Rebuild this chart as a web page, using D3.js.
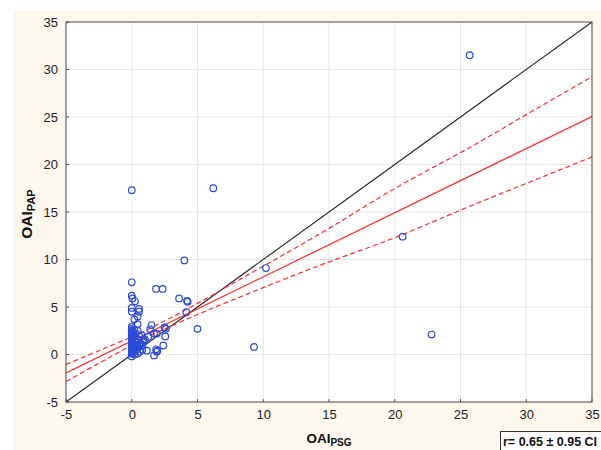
<!DOCTYPE html>
<html>
<head>
<meta charset="utf-8">
<script src="https://cdn.jsdelivr.net/npm/d3@7"></script>
<style>
  html, body { margin: 0; padding: 0; background: #ffffff; }
  svg { display: block; font-family: "Liberation Sans", Arial, sans-serif; }
</style>
</head>
<body>
<svg id="chart" width="601" height="450"></svg>
<script>
// ---- data ----
const xTicks = [-5, 0, 5, 10, 15, 20, 25, 30, 35];
const yTicks = [-5, 0, 5, 10, 15, 20, 25, 30, 35];

const oaiPSG = [
  25.7, 6.2, 0, 4.0, 10.2, 20.6, 22.8, 9.3, 5.0, 1.85, 2.35, 3.6, 4.2, 4.25, 4.15,
  2.6, 2.5, 2.4, 1.85, 1.5, 1.4, 2.55, 1.95, 1.7, 1.9, 1.7, 1.9, 0.75, 1.25, 0.9, 0.65, 1.15,
  0, 0, 0.05, 0.25, 0, 0, 0.55, 0.55, 0.2, 0.45, 0.45,
  0, 0, 0, 0, 0, 0, 0, 0, 0, 0, 0, 0, 0, 0, 0, 0,
  0.1, 0.1, 0.1, 0.1, 0.1,
  0.2, 0.2, 0.2, 0.2, 0.2,
  0.3, 0.3, 0.3,
  0.45, 0.45, 0.45, 0.45,
  0.6, 0.6, 0.6,
  0.8, 0.8, 0.85, 1.0, 0.4
];
const oaiPAP = [
  31.5, 17.5, 17.3, 9.9, 9.1, 12.4, 2.1, 0.8, 2.7, 6.9, 6.9, 5.9, 5.65, 5.55, 4.45,
  2.7, 2.85, 0.95, 0.55, 3.1, 2.65, 1.9, 0.4, -0.1, 0.3, 2.2, 2.2, 2.05, 1.85, 1.5, 1.2, 0.4,
  7.6, 6.2, 5.9, 5.6, 4.9, 4.5, 4.8, 4.5, 3.7, 3.2, 4.0,
  2.9, 2.7, 2.5, 2.3, 2.1, 1.9, 1.7, 1.5, 1.3, 1.1, 0.9, 0.7, 0.5, 0.3, 0.1, -0.2,
  2.4, 1.8, 1.2, 0.6, 0.2,
  2.6, 2.0, 1.4, 0.8, 0.0,
  2.2, 1.0, 0.4,
  2.5, 1.6, 0.7, 0.1,
  1.9, 0.9, 0.3,
  1.0, 0.5, 1.3, 1.6, 1.3
];

// regression line and 95% confidence band
const fitX = [-5, 35];
const fitY = [-1.95, 25.05];
const ciX = [-5, 0, 1.5, 5, 10, 15, 20, 25, 30, 35];
const ciUpper = [-1.05, 1.85, 2.82, 5.38, 9.30, 13.27, 17.47, 21.25, 25.25, 29.24];
const ciLower = [-2.85, 0.99, 2.04, 4.21, 7.04, 9.75, 12.3, 15.2, 18.0, 20.8];
const identity = [-5, 35];

const xTitle = ["OAI", "PSG"];
const yTitle = ["OAI", "PAP"];
const legendText = "r= 0.65 \u00B1 0.95 CI";

// ---- layout ----
const svg = d3.select("#chart");
const L = 66, R = 592, T = 22, B = 402;

svg.append("rect").attr("x", 13).attr("y", 10).attr("width", 601 - 13).attr("height", 450 - 10)
  .attr("fill", "#fdf8ee");
svg.append("rect").attr("x", L).attr("y", T).attr("width", R - L).attr("height", B - T)
  .attr("fill", "#ffffff");

const x = d3.scaleLinear().domain([-5, 35]).range([L, R]);
const y = d3.scaleLinear().domain([-5, 35]).range([B, T]);

// grid
const g = svg.append("g");
g.selectAll(".vg").data(xTicks.slice(1, -1)).join("line")
  .attr("x1", d => x(d)).attr("x2", d => x(d)).attr("y1", T).attr("y2", B)
  .attr("stroke", "#e6e6e6").attr("stroke-width", 1);
g.selectAll(".hg").data(yTicks.slice(1, -1)).join("line")
  .attr("y1", d => y(d)).attr("y2", d => y(d)).attr("x1", L).attr("x2", R)
  .attr("stroke", "#e6e6e6").attr("stroke-width", 1);

// axes
const fmt = d => String(d);
const xAxis = d3.axisBottom(x).tickValues(xTicks).tickFormat(fmt).tickSize(0).tickPadding(8);
const yAxis = d3.axisLeft(y).tickValues(yTicks).tickFormat(fmt).tickSize(0).tickPadding(8);
const gx = svg.append("g").attr("transform", `translate(0,${B})`).call(xAxis);
const gy = svg.append("g").attr("transform", `translate(${L},0)`).call(yAxis);
[gx, gy].forEach(a => {
  a.select(".domain").remove();
  a.selectAll("text").attr("font-size", 13).attr("fill", "#222")
    .attr("font-family", "'Liberation Sans', Arial, sans-serif");
});
// small inner tick marks
svg.append("g").selectAll("line").data(xTicks).join("line")
  .attr("x1", d => x(d)).attr("x2", d => x(d)).attr("y1", B).attr("y2", B - 3)
  .attr("stroke", "#555");
svg.append("g").selectAll("line").data(yTicks).join("line")
  .attr("y1", d => y(d)).attr("y2", d => y(d)).attr("x1", L).attr("x2", L + 3)
  .attr("stroke", "#555");

// clip
svg.append("clipPath").attr("id", "clip").append("rect")
  .attr("x", L).attr("y", T).attr("width", R - L).attr("height", B - T);
const plot = svg.append("g").attr("clip-path", "url(#clip)");

// identity line
plot.append("line")
  .attr("x1", x(identity[0])).attr("y1", y(identity[0]))
  .attr("x2", x(identity[1])).attr("y2", y(identity[1]))
  .attr("stroke", "#222").attr("stroke-width", 1.1);

// regression
const line = d3.line().x(d => x(d[0])).y(d => y(d[1])).curve(d3.curveNatural);
plot.append("path").datum(fitX.map((v, i) => [v, fitY[i]]))
  .attr("d", line).attr("fill", "none").attr("stroke", "#ff2a2a").attr("stroke-width", 1.2);
plot.append("path").datum(ciX.map((v, i) => [v, ciUpper[i]]))
  .attr("d", line).attr("fill", "none").attr("stroke", "#ff2a2a").attr("stroke-width", 1.2)
  .attr("stroke-dasharray", "5,3");
plot.append("path").datum(ciX.map((v, i) => [v, ciLower[i]]))
  .attr("d", line).attr("fill", "none").attr("stroke", "#ff2a2a").attr("stroke-width", 1.2)
  .attr("stroke-dasharray", "5,3");

// points
plot.selectAll("circle").data(oaiPSG.map((v, i) => [v, oaiPAP[i]])).join("circle")
  .attr("cx", d => x(d[0])).attr("cy", d => y(d[1])).attr("r", 3.3)
  .attr("fill", "none").attr("stroke", "#2a4bd8").attr("stroke-width", 1.2);

// frame
svg.append("rect").attr("x", L).attr("y", T).attr("width", R - L).attr("height", B - T)
  .attr("fill", "none").attr("stroke", "#444").attr("stroke-width", 1);

// titles
const xt = svg.append("text").attr("x", (L + R) / 2).attr("y", 443)
  .attr("text-anchor", "middle").attr("font-weight", "bold").attr("font-size", 13.5).attr("fill", "#111");
xt.append("tspan").text(xTitle[0]);
xt.append("tspan").text(xTitle[1]).attr("font-size", 10).attr("dy", 3);

const yt = svg.append("text").attr("transform", `translate(32,${214}) rotate(-90)`)
  .attr("text-anchor", "middle").attr("font-weight", "bold").attr("font-size", 15.5).attr("fill", "#111");
yt.append("tspan").text(yTitle[0]);
yt.append("tspan").text(yTitle[1]).attr("font-size", 11).attr("dy", 3);

// legend box
svg.append("rect").attr("x", 500.5).attr("y", 431.5).attr("width", 110).attr("height", 30)
  .attr("fill", "#ffffff").attr("stroke", "#333").attr("stroke-width", 1);
svg.append("text").attr("x", 503).attr("y", 446).attr("font-weight", "bold")
  .attr("font-size", 12.5).attr("fill", "#111").text(legendText);
</script>
</body>
</html>
